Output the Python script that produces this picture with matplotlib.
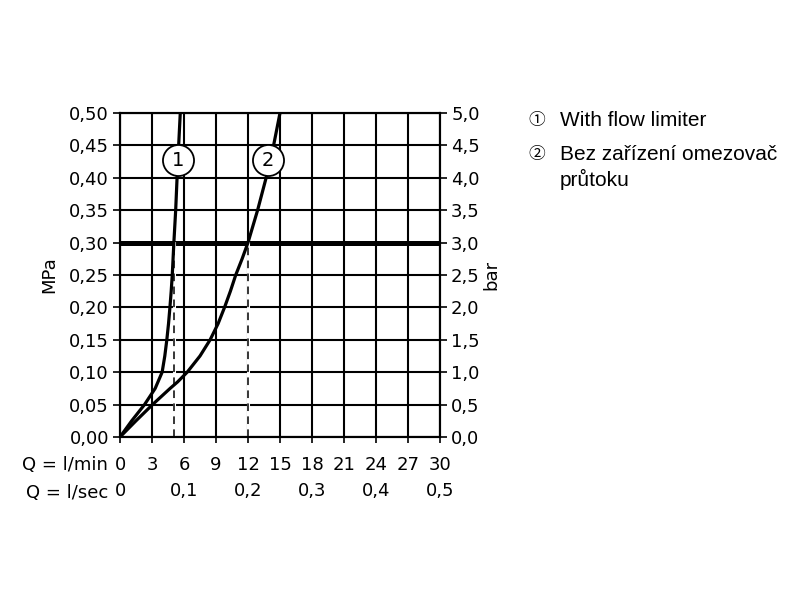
import matplotlib
matplotlib.use('Agg')
import matplotlib.pyplot as plt
import numpy as np

# === DATA ===
# curve 1: with flow limiter, flow in l/min vs pressure in MPa
flow_1 = [0, 1.1, 2.3, 3.3, 3.95, 4.2, 4.39, 4.55, 4.68, 4.8, 4.9, 5.05, 5.22, 5.35, 5.5, 5.65]
press_1 = [0, 0.025, 0.05, 0.075, 0.10, 0.125, 0.15, 0.175, 0.20, 0.225, 0.25, 0.30, 0.35, 0.40, 0.45, 0.50]

# curve 2: without flow limiter
flow_2 = [0, 1.5, 3.05, 4.7, 5.4, 6.3, 7.5, 8.45, 9.2, 9.8, 10.35, 10.85, 11.45, 12.0, 12.9, 13.7, 14.4, 15.0]
press_2 = [0, 0.025, 0.05, 0.075, 0.085, 0.10, 0.125, 0.15, 0.175, 0.20, 0.225, 0.25, 0.275, 0.30,
           0.35, 0.40, 0.45, 0.50]

# operating point (3 bar) and the flows read at it
work_pressure = 0.30
work_flows = [5.1, 12.0]

# curve number markers
marker_x = [5.45, 13.9]
marker_y = [0.427, 0.427]
marker_text = ['1', '2']

# axes ticks
lmin_ticks = [0, 3, 6, 9, 12, 15, 18, 21, 24, 27, 30]
lsec_ticks = [0, 0.1, 0.2, 0.3, 0.4, 0.5]
lsec_labels = ['0', '0,1', '0,2', '0,3', '0,4', '0,5']
mpa_ticks = [0, 0.05, 0.10, 0.15, 0.20, 0.25, 0.30, 0.35, 0.40, 0.45, 0.50]
mpa_labels = ['0,00', '0,05', '0,10', '0,15', '0,20', '0,25', '0,30', '0,35', '0,40', '0,45', '0,50']
bar_ticks = [0, 0.5, 1.0, 1.5, 2.0, 2.5, 3.0, 3.5, 4.0, 4.5, 5.0]
bar_labels = ['0,0', '0,5', '1,0', '1,5', '2,0', '2,5', '3,0', '3,5', '4,0', '4,5', '5,0']

legend_lines = ['With flow limiter', 'Bez zařízení omezovač\nprůtoku']
legend_marks = ['①', '②']

# === STYLE ===
tick_size = 13
grid_lw = 1.5
curve_lw = 2.3
plt.rcParams['font.family'] = ['DejaVu Sans']

fig = plt.figure(figsize=(8, 6), dpi=100)
ax = fig.add_axes([0.15, 0.2717, 0.40, 0.54])

ax.set_xlim(0, 30)
ax.set_ylim(0, 0.5)

# grid
for x in lmin_ticks:
    ax.axvline(x, color='black', lw=grid_lw, zorder=1)
for y in mpa_ticks:
    ax.axhline(y, color='black', lw=grid_lw, zorder=1)

# thick line at working pressure
ax.axhline(work_pressure, color='black', lw=3.6, zorder=2)

# dashed drop lines
for fx in work_flows:
    ax.plot([fx, fx], [0, work_pressure], color='white', lw=2.2, zorder=2)
    ax.plot([fx, fx], [0, work_pressure], color='black', lw=1.1,
            linestyle=(0, (5, 3.5)), zorder=3)

# curves
ax.plot(flow_1, press_1, color='black', lw=curve_lw, zorder=4,
        solid_joinstyle='round', solid_capstyle='round')
ax.plot(flow_2, press_2, color='black', lw=curve_lw, zorder=4,
        solid_joinstyle='round', solid_capstyle='round')

# numbered circles
ax.scatter(marker_x, marker_y, s=500, facecolor='white', edgecolor='black',
           linewidth=1.3, zorder=5, clip_on=False)
for mx, my, t in zip(marker_x, marker_y, marker_text):
    ax.text(mx, my, t, ha='center', va='center', fontsize=14, zorder=6)

# left axis
ax.set_yticks(mpa_ticks)
ax.set_yticklabels(mpa_labels, fontsize=tick_size)
ax.set_ylabel('MPa', fontsize=tick_size, labelpad=8)

# bottom axis (l/min)
ax.set_xticks(lmin_ticks)
ax.set_xticklabels([str(v) for v in lmin_ticks], fontsize=tick_size)
ax.tick_params(axis='both', direction='out', length=5, width=1.2, pad=3)
ax.tick_params(axis='x', length=4, pad=10)

for s in ax.spines.values():
    s.set_linewidth(grid_lw)

# right axis in bar
ax2 = ax.twinx()
ax2.set_ylim(0, 5)
ax2.set_yticks(bar_ticks)
ax2.set_yticklabels(bar_labels, fontsize=tick_size)
ax2.tick_params(axis='y', direction='out', length=5, width=1.2, pad=3)
ax2.set_ylabel('bar', fontsize=tick_size, rotation=90, labelpad=2)
for s in ax2.spines.values():
    s.set_linewidth(grid_lw)

# second row of flow in l/sec
sec = ax.secondary_xaxis(-0.127, functions=(lambda x: x / 60.0, lambda x: x * 60.0))
sec.set_xticks(lsec_ticks)
sec.set_xticklabels(lsec_labels, fontsize=tick_size)
sec.tick_params(length=0, pad=3)
sec.spines['bottom'].set_visible(False)

ax.text(-0.038, -0.085, 'Q = l/min', transform=ax.transAxes, ha='right', va='center',
        fontsize=tick_size)
ax.text(-0.038, -0.172, 'Q = l/sec', transform=ax.transAxes, ha='right', va='center',
        fontsize=tick_size)

# legend text on the right
leg_font = ['Liberation Sans', 'Noto Sans CJK SC', 'DejaVu Sans']
fig.text(0.671, 1 - 121 / 600, legend_marks[0], ha='center', va='center', fontsize=12,
         family=['Noto Sans CJK SC', 'DejaVu Sans'])
fig.text(0.70, 1 - 121 / 600, legend_lines[0], ha='left', va='center', fontsize=15,
         family=leg_font)
fig.text(0.671, 1 - 155 / 600, legend_marks[1], ha='center', va='center', fontsize=12,
         family=['Noto Sans CJK SC', 'DejaVu Sans'])
fig.text(0.70, 1 - 145 / 600, legend_lines[1], ha='left', va='top', fontsize=15,
         family=leg_font, linespacing=1.3)

fig.savefig('out.png', dpi=100)
